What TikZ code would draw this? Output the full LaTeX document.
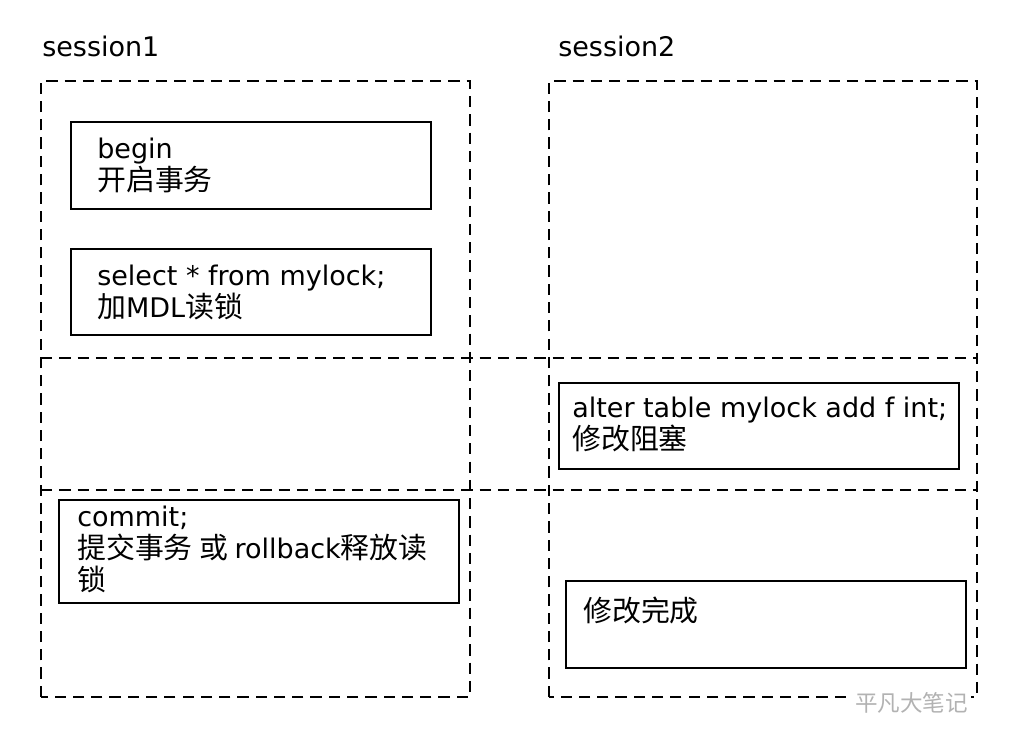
\documentclass[tikz,border=0pt]{standalone}
\usepackage{fontspec}
\setmainfont{DejaVu Sans}
\newfontfamily\cjk[Scale=1.07]{Noto Sans CJK SC}
\usetikzlibrary{positioning}

\begin{document}
\begin{tikzpicture}[
    lane/.style={draw, line width=1.4pt, dash pattern=on 8pt off 5pt},
    stepbox/.style={draw, line width=1.4pt, anchor=north west, inner sep=0pt},
    txt/.style={inner sep=0pt, align=left, font=\fontsize{19.2}{22.5}\selectfont}]
  \useasboundingbox (0,0) rectangle (25.8,18.2);
  % session columns and time rows
  \draw[lane] (1.025,0.775) rectangle (11.75,16.175);
  \draw[lane] (13.725,0.775) rectangle (24.425,16.175);
  \foreach \y in {9.25,5.95} {
    \draw[lane] (1.025,\y) -- (24.425,\y);
  }
  \node[txt, anchor=west] (s1) at (1.05,17.05) {session1};
  \node[txt, anchor=west] (s2) at (13.95,17.05) {session2};
  % statement boxes
  \foreach \n/\x/\y/\w/\h in {b1/1.75/15.175/9/2.175, b2/1.75/12.0/9/2.15,
      b3/13.95/8.65/10/2.15, b4/1.45/5.725/10/2.575, b5/14.125/3.7/10/2.175} {
    \node[stepbox, minimum width=\w cm, minimum height=\h cm] (\n) at (\x,\y) {};
  }
  \node[txt, below right=0.42 and 0.675 of b1.north west] (t1) {begin\\{\cjk 开启事务}};
  \node[txt, below right=0.42 and 0.675 of b2.north west] (t2) {select * from mylock;\\{\cjk 加}MDL{\cjk 读锁}};
  \node[txt, below right=0.38 and 0.35 of b3.north west] (t3) {alter table mylock add f int;\\{\cjk 修改阻塞}};
  \node[txt, below right=0.18 and 0.475 of b4.north west] (t4) {commit;\\{\cjk 提交事务 或 }rollback{\cjk 释放读}\\{\cjk 锁}};
  \node[txt, below right=0.42 and 0.45 of b5.north west] (t5) {{\cjk 修改完成}};
  % watermark
  \node[font=\cjk\fontsize{15}{15}\selectfont, text=gray!60, fill=white, inner sep=2pt, anchor=west] (wm) at (21.3,0.625) {平凡大笔记};
\end{tikzpicture}
\end{document}
